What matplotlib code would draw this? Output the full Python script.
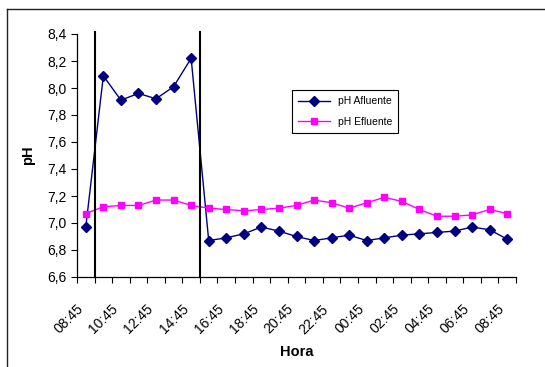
import numpy as np
import matplotlib
matplotlib.use("Agg")
import matplotlib.pyplot as plt
from matplotlib.lines import Line2D
from matplotlib.ticker import FuncFormatter, FixedLocator

# ---- data (hourly readings, 08:45 -> 08:45 next day) ----
horas = ["08:45", "09:45", "10:45", "11:45", "12:45", "13:45", "14:45",
         "15:45", "16:45", "17:45", "18:45", "19:45", "20:45", "21:45",
         "22:45", "23:45", "00:45", "01:45", "02:45", "03:45", "04:45",
         "05:45", "06:45", "07:45", "08:45"]
ph_afluente = [6.97, 8.09, 7.91, 7.96, 7.92, 8.01, 8.22, 6.87, 6.89, 6.92,
               6.97, 6.94, 6.90, 6.87, 6.89, 6.91, 6.87, 6.89, 6.91, 6.92,
               6.93, 6.94, 6.97, 6.95, 6.88]
ph_efluente = [7.07, 7.12, 7.13, 7.13, 7.17, 7.17, 7.13, 7.11, 7.10, 7.09,
               7.10, 7.11, 7.13, 7.17, 7.15, 7.11, 7.15, 7.19, 7.16, 7.10,
               7.05, 7.05, 7.06, 7.10, 7.07]
# dosing period markers (between readings)
marcas = [0.5, 6.5]

plt.rcParams['font.family'] = ['Liberation Sans', 'DejaVu Sans']

W, H = 545, 367
fig = plt.figure(figsize=(W / 100, H / 100), dpi=100)
ax = fig.add_axes([77 / W, 90 / H, 439 / W, 243 / H])

x = np.arange(len(horas))
ax.plot(x, ph_afluente, color='#000080', marker='D', markersize=5,
        linewidth=1, label='pH Afluente')
ax.plot(x, ph_efluente, color='#FF00FF', marker='s', markersize=4.5,
        linewidth=1, label='pH Efluente')

for m in marcas:
    ax.axvline(m, ymin=0, ymax=1.01, color='black', linewidth=1.5, clip_on=False)

ax.set_xlim(-0.5, len(horas) - 0.5)
ax.set_ylim(6.6, 8.4)
ax.set_yticks(np.arange(6.6, 8.41, 0.2))
ax.yaxis.set_major_formatter(FuncFormatter(lambda v, p: f"{v:.1f}".replace('.', ',')))

# labels every second reading, tick marks between categories
ax.set_xticks(x[::2])
ax.set_xticklabels(horas[::2], rotation=45, ha='right', va='top')
ax.xaxis.set_minor_locator(FixedLocator(np.arange(-0.5, len(horas), 1)))
ax.tick_params(axis='x', which='major', length=0, pad=18, labelsize=10)
ax.tick_params(axis='x', which='minor', length=4, width=0.8, direction='out')
ax.tick_params(axis='y', length=4, width=0.8, pad=3.5, labelsize=10)

for s in ['top', 'right']:
    ax.spines[s].set_visible(False)
for s in ['left', 'bottom']:
    ax.spines[s].set_linewidth(0.9)

ax.set_ylabel('pH', fontweight='bold', fontsize=10.5, va='center')
ax.yaxis.set_label_coords(-0.112, 0.5)
ax.set_xlabel('Hora', fontweight='bold', fontsize=10.5, va='center')
ax.xaxis.set_label_coords(0.5, -0.309)

leg = ax.legend(loc='upper left', bbox_to_anchor=(292 / W, 1 - 90 / H),
                bbox_transform=fig.transFigure, fontsize=7.5, frameon=True,
                fancybox=False, edgecolor='black', framealpha=1,
                handlelength=3, borderpad=0.6, labelspacing=1.0, borderaxespad=0)
leg.get_frame().set_linewidth(0.8)

# chart area border (cropped)
fig.add_artist(Line2D([7 / W, 7 / W], [0, 1 - 9 / H], transform=fig.transFigure,
                      color='#222222', linewidth=1))
fig.add_artist(Line2D([7 / W, 1], [1 - 9 / H, 1 - 9 / H], transform=fig.transFigure,
                      color='#222222', linewidth=1))

fig.savefig('out.png', dpi=100)
